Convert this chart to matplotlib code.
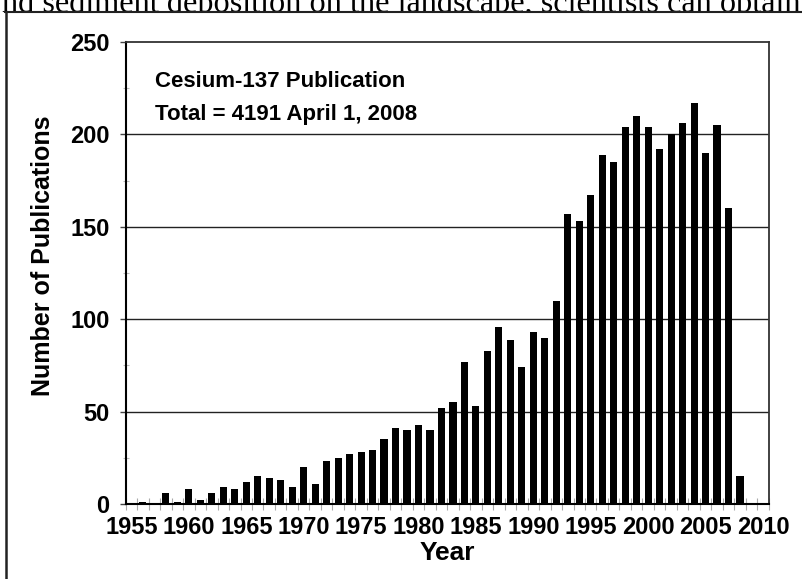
#!/usr/bin/env python3
"""Cesium-137 publications per year, bar chart recreated with matplotlib."""

import os

os.environ.setdefault("MPLCONFIGDIR", "/tmp/matplotlib")

import matplotlib

matplotlib.use("Agg")
import matplotlib.pyplot as plt
from matplotlib.lines import Line2D
from matplotlib.patches import Rectangle

YEARS = list(range(1955, 2011))
COUNTS = [
    0, 1, 0, 6, 1, 8, 2, 6, 9, 8,            # 1955-1964
    12, 15, 14, 13, 9, 20, 11, 23, 25, 27,   # 1965-1974
    28, 29, 35, 41, 40, 43, 40, 52, 55, 77,  # 1975-1984
    53, 83, 96, 89, 74, 93, 90, 110, 157, 153,   # 1985-1994
    167, 189, 185, 204, 210, 204, 192, 200, 206, 217,  # 1995-2004
    190, 205, 160, 15, 0, 0,                 # 2005-2010
]
LABEL_YEARS = list(range(1955, 2011, 5))
Y_TICKS = [0, 50, 100, 150, 200, 250]

TITLE_LINES = ["Cesium-137 Publication", "Total = 4191 April 1, 2008"]
PAGE_TEXT = "nd sediment deposition on the landscape, scientists can obtain"

W, H = 802, 579
SANS = ["Liberation Sans", "DejaVu Sans"]


def main() -> None:
    fig = plt.figure(figsize=(W / 100, H / 100), dpi=100)
    fig.patch.set_facecolor("white")

    left, right, top, bottom = 125.7, 768.7, 42.0, 504.0
    ax = fig.add_axes([left / W, 1 - bottom / H, (right - left) / W, (bottom - top) / H])

    ax.bar(YEARS, COUNTS, width=0.62, color="black", zorder=3)

    ax.set_xlim(YEARS[0] - 0.5, YEARS[-1] + 0.5)
    ax.set_ylim(0, 250)

    # gridlines
    for value in Y_TICKS[1:-1]:
        ax.axhline(value, color="#222222", linewidth=1.0, zorder=1)

    for side in ("top", "right"):
        ax.spines[side].set_color("#333333")
        ax.spines[side].set_linewidth(1.3)
    for side in ("left", "bottom"):
        ax.spines[side].set_color("black")
        ax.spines[side].set_linewidth(1.5)

    # y axis ticks
    ax.set_yticks(Y_TICKS)
    ax.set_yticks([25, 75, 125, 175, 225], minor=True)
    ax.tick_params(axis="y", which="major", direction="out", length=4.5, width=1.0,
                   color="#444444", pad=7, labelsize=17)
    ax.tick_params(axis="y", which="minor", direction="inout", length=5, width=0.8,
                   color="#bbbbbb")

    # x axis: ticks at category boundaries, labels on every fifth category
    ax.set_xticks([y - 0.5 for y in YEARS] + [YEARS[-1] + 0.5])
    ax.set_xticklabels([])
    ax.tick_params(axis="x", which="major", direction="inout", length=9, width=0.8,
                   color="#aaaaaa")
    ax.set_xticks(LABEL_YEARS, minor=True)
    ax.set_xticklabels([str(y) for y in LABEL_YEARS], minor=True)
    ax.tick_params(axis="x", which="minor", length=0, pad=9, labelsize=17)

    for label in ax.get_xticklabels(minor=True) + ax.get_yticklabels():
        label.set_family(SANS)
        label.set_fontweight("bold")

    ax.set_ylabel("Number of Publications", family=SANS, fontweight="bold", fontsize=18,
                  va="center")
    ax.yaxis.set_label_coords((43 - left) / (right - left), (bottom - 256) / (bottom - top))
    ax.set_xlabel("Year", family=SANS, fontweight="bold", fontsize=19, va="center")
    ax.xaxis.set_label_coords(0.5, -(553 - bottom) / (bottom - top))

    for i, line in enumerate(TITLE_LINES):
        fig.text(155 / W, 1 - (87 + i * 33) / H, line, family=SANS, fontweight="bold",
                 fontsize=16, va="baseline", ha="left")

    # page text above the figure frame, clipped at the top
    page = fig.text(2 / W, 1 - 12 / H, PAGE_TEXT, family=["Liberation Serif", "DejaVu Serif"],
                    fontsize=20, va="baseline", ha="left", zorder=2)
    renderer = fig.canvas.get_renderer()
    width = page.get_window_extent(renderer).width
    page.set_fontsize(20 * 798 / width)

    fig.add_artist(Rectangle((0, 1 - 22 / H), 1, 10 / H, transform=fig.transFigure,
                             facecolor="white", edgecolor="none", zorder=4))
    fig.add_artist(Line2D([5 / W, 1], [1 - 12 / H, 1 - 12 / H], transform=fig.transFigure,
                          color="#222222", linewidth=1.5, zorder=5))
    fig.add_artist(Line2D([5.5 / W, 5.5 / W], [0, 1 - 12 / H], transform=fig.transFigure,
                          color="#222222", linewidth=1.8, zorder=5))

    fig.savefig("out.png", dpi=100)
    plt.close(fig)


if __name__ == "__main__":
    main()
